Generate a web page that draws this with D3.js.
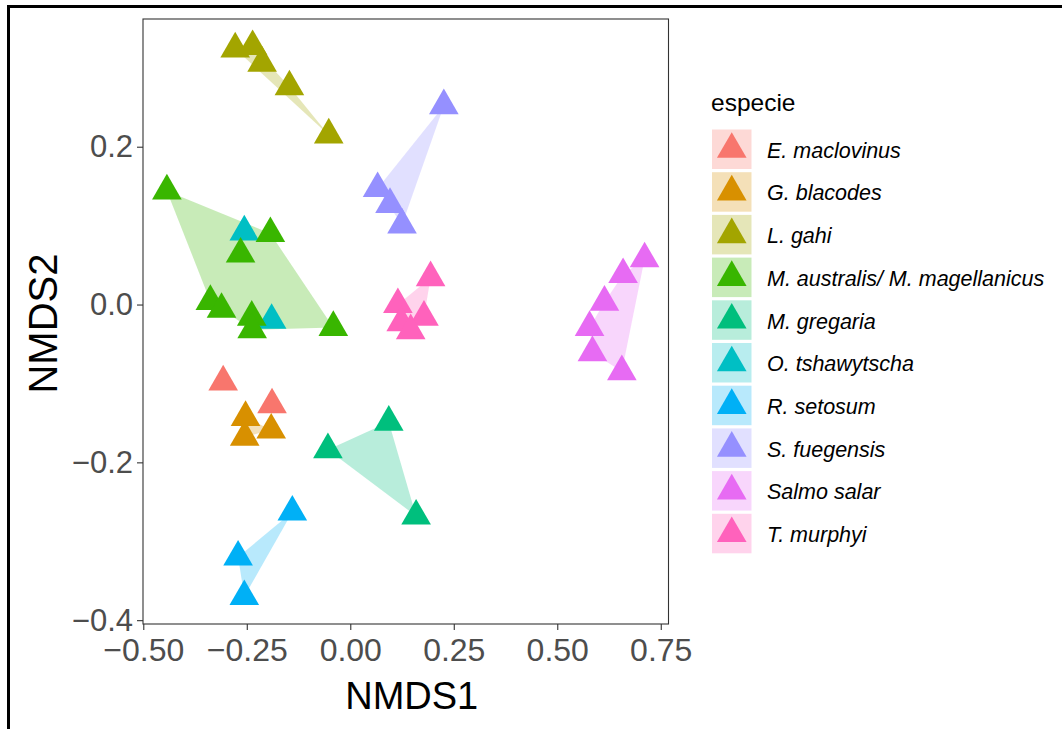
<!DOCTYPE html>
<html>
<head>
<meta charset="utf-8">
<script src="https://cdn.jsdelivr.net/npm/d3@7"></script>
<style>
  html, body { margin: 0; padding: 0; background: #fff; }
  svg { display: block; }
  text { font-family: "Liberation Sans", Arial, Helvetica, sans-serif; }
</style>
</head>
<body>
<svg id="chart" width="1062" height="729"></svg>
<script>
// ---------------- data ----------------
const species = ["E. maclovinus", "G. blacodes", "L. gahi", "M. australis/ M. magellanicus",
  "M. gregaria", "O. tshawytscha", "R. setosum", "S. fuegensis", "Salmo salar", "T. murphyi"];
const speciesColors = ["#F8766D", "#D89000", "#A3A500", "#39B600", "#00BF7D",
  "#00BFC4", "#00B0F6", "#9590FF", "#E76BF3", "#FF62BC"];

// each point: species, NMDS1, NMDS2
const pointSpecies = [
  "E. maclovinus", "E. maclovinus",
  "G. blacodes", "G. blacodes", "G. blacodes",
  "L. gahi", "L. gahi", "L. gahi", "L. gahi", "L. gahi",
  "O. tshawytscha", "O. tshawytscha",
  "M. australis/ M. magellanicus", "M. australis/ M. magellanicus", "M. australis/ M. magellanicus",
  "M. australis/ M. magellanicus", "M. australis/ M. magellanicus", "M. australis/ M. magellanicus",
  "M. australis/ M. magellanicus", "M. australis/ M. magellanicus",
  "M. gregaria", "M. gregaria", "M. gregaria",
  "R. setosum", "R. setosum", "R. setosum",
  "S. fuegensis", "S. fuegensis", "S. fuegensis", "S. fuegensis",
  "Salmo salar", "Salmo salar", "Salmo salar", "Salmo salar", "Salmo salar", "Salmo salar",
  "T. murphyi", "T. murphyi", "T. murphyi", "T. murphyi", "T. murphyi"
];
const nmds1 = [
  -0.307, -0.189,
  -0.253, -0.255, -0.191,
  -0.278, -0.236, -0.213, -0.147, -0.052,
  -0.256, -0.190,
  -0.443, -0.193, -0.265, -0.338, -0.311, -0.238, -0.237, -0.041,
  -0.054, 0.093, 0.159,
  -0.140, -0.271, -0.256,
  0.226, 0.066, 0.096, 0.125,
  0.711, 0.659, 0.614, 0.578, 0.585, 0.656,
  0.194, 0.115, 0.178, 0.123, 0.146
];
const nmds2 = [
  -0.098, -0.127,
  -0.143, -0.168, -0.159,
  0.324, 0.327, 0.306, 0.276, 0.215,
  0.092, -0.020,
  0.144, 0.090, 0.064, 0.004, -0.006, -0.016, -0.032, -0.029,
  -0.184, -0.149, -0.268,
  -0.263, -0.320, -0.370,
  0.252, 0.147, 0.127, 0.101,
  0.058, 0.038, 0.003, -0.029, -0.061, -0.085,
  0.034, 0.000, -0.016, -0.023, -0.033
];

const xTicks = [-0.5, -0.25, 0, 0.25, 0.5, 0.75];
const xTickLabels = ["\u22120.50", "\u22120.25", "0.00", "0.25", "0.50", "0.75"];
const yTicks = [-0.4, -0.2, 0, 0.2];
const yTickLabels = ["\u22120.4", "\u22120.2", "0.0", "0.2"];
const xTitle = "NMDS1";
const yTitle = "NMDS2";
const legendTitle = "especie";

// ---------------- layout ----------------
const panel = { left: 143, top: 19, right: 668.5, bottom: 624 };
const svg = d3.select("#chart");

const points = nmds1.map((v, i) => ({ sp: pointSpecies[i], x: v, y: nmds2[i] }));

function expanded(vals) {
  const [lo, hi] = d3.extent(vals);
  const pad = (hi - lo) * 0.05;
  return [lo - pad, hi + pad];
}
const x = d3.scaleLinear().domain(expanded(nmds1)).range([panel.left, panel.right]);
const y = d3.scaleLinear().domain(expanded(nmds2)).range([panel.bottom, panel.top]);
const color = d3.scaleOrdinal().domain(species).range(speciesColors);

// outer black frame (cropped screenshot border)
svg.append("path")
  .attr("d", "M8.5,729 V6.5 H1062")
  .attr("fill", "none").attr("stroke", "#000").attr("stroke-width", 3);

// clip for panel
svg.append("clipPath").attr("id", "clip")
  .append("rect").attr("x", panel.left).attr("y", panel.top)
  .attr("width", panel.right - panel.left).attr("height", panel.bottom - panel.top);

const gPlot = svg.append("g").attr("clip-path", "url(#clip)");

// hulls
const groups = d3.group(points, d => d.sp);
species.forEach(sp => {
  const pts = (groups.get(sp) || []).map(d => [x(d.x), y(d.y)]);
  let poly = pts.length >= 3 ? d3.polygonHull(pts) : pts;
  if (!poly) poly = pts;
  gPlot.append("path")
    .attr("d", "M" + poly.map(p => p.join(",")).join("L") + "Z")
    .attr("fill", color(sp)).attr("fill-opacity", 0.28)
    .attr("stroke", "none");
});

// R-style filled triangle (pch 17), centroid at the point
const r0 = 11;
function tri(cx, cy) {
  const top = 1.555 * r0, half = 1.347 * r0, base = 0.778 * r0;
  return `M${cx},${cy - top}L${cx + half},${cy + base}L${cx - half},${cy + base}Z`;
}

gPlot.selectAll("path.pt").data(points).join("path")
  .attr("class", "pt")
  .attr("d", d => tri(x(d.x), y(d.y)))
  .attr("fill", d => color(d.sp));

// panel border
svg.append("rect")
  .attr("x", panel.left).attr("y", panel.top)
  .attr("width", panel.right - panel.left).attr("height", panel.bottom - panel.top)
  .attr("fill", "none").attr("stroke", "#333333").attr("stroke-width", 1.1);

// axes
const xAxis = d3.axisBottom(x).tickValues(xTicks)
  .tickFormat((d, i) => xTickLabels[i]).tickSize(6).tickPadding(8);
const gx = svg.append("g").attr("transform", `translate(0,${panel.bottom})`).call(xAxis);
gx.select(".domain").remove();
gx.selectAll("line").attr("stroke", "#333333").attr("stroke-width", 1.1);
gx.selectAll("text").attr("fill", "#4D4D4D").attr("font-size", 32)
  .attr("font-family", "'Liberation Sans', Arial, sans-serif");

const yAxis = d3.axisLeft(y).tickValues(yTicks)
  .tickFormat((d, i) => yTickLabels[i]).tickSize(6).tickPadding(4);
const gy = svg.append("g").attr("transform", `translate(${panel.left},0)`).call(yAxis);
gy.select(".domain").remove();
gy.selectAll("line").attr("stroke", "#333333").attr("stroke-width", 1.1);
gy.selectAll("text").attr("fill", "#4D4D4D").attr("font-size", 31)
  .attr("font-family", "'Liberation Sans', Arial, sans-serif");

// axis titles
svg.append("text")
  .attr("x", (panel.left + panel.right) / 2 + 6).attr("y", 709)
  .attr("text-anchor", "middle").attr("font-size", 38).attr("fill", "#000")
  .text(xTitle);
svg.append("text")
  .attr("transform", `translate(57,${(panel.top + panel.bottom) / 2 + 2}) rotate(-90)`)
  .attr("text-anchor", "middle").attr("font-size", 40).attr("fill", "#000")
  .text(yTitle);

// legend
const lg = svg.append("g");
lg.append("text").attr("x", 711).attr("y", 111).attr("font-size", 24.5).attr("fill", "#000")
  .text(legendTitle);
const keyX = 712, keyY0 = 129.5, keyW = 39.5, keyH = 39.5, keyStep = 42.7;
species.forEach((sp, i) => {
  const ky = keyY0 + i * keyStep;
  lg.append("rect").attr("x", keyX).attr("y", ky).attr("width", keyW).attr("height", keyH)
    .attr("fill", color(sp)).attr("fill-opacity", 0.28);
  lg.append("path").attr("d", tri(keyX + keyW / 2, ky + keyH / 2)).attr("fill", color(sp));
  lg.append("text").attr("x", 767).attr("y", ky + keyH / 2 + 1).attr("dy", "0.35em")
    .attr("font-size", 21.5).attr("font-style", "italic").attr("fill", "#000")
    .text(sp);
});
</script>
</body>
</html>
